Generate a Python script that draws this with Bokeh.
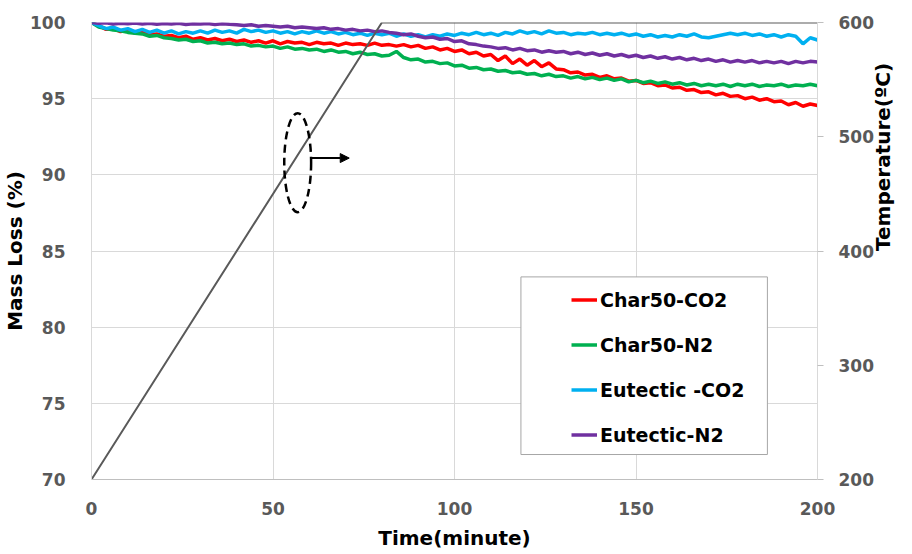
import math
from bokeh.plotting import figure
from bokeh.models import (Range1d, LinearAxis, Legend, LegendItem, Arrow, NormalHead,
                          FixedTicker)
from bokeh.embed import file_html
from bokeh.resources import INLINE

# ---------------- data ----------------
time_min = list(range(0, 201, 2))

char50_co2 = [
    100.0, 99.8, 99.55, 99.6, 99.4, 99.5, 99.3, 99.35, 99.2, 99.25,
    99.1, 99.15, 99.0, 99.1, 98.9, 99.0, 98.85, 98.95, 98.8, 98.9,
    98.75, 98.85, 98.7, 98.8, 98.65, 98.8, 98.6, 98.75, 98.65, 98.7,
    98.55, 98.7, 98.6, 98.65, 98.5, 98.65, 98.55, 98.6, 98.5, 98.65,
    98.5, 98.55, 98.45, 98.55, 98.4, 98.5, 98.3, 98.4, 98.2, 98.3,
    98.1, 98.2, 97.95, 98.05, 97.8, 97.9, 97.5, 97.8, 97.3, 97.6,
    97.2, 97.5, 97.1, 97.35, 96.95, 96.9, 96.7, 96.75, 96.55, 96.6,
    96.4, 96.5, 96.3, 96.35, 96.15, 96.2, 96.0, 96.05, 95.85, 95.9,
    95.7, 95.75, 95.55, 95.6, 95.4, 95.45, 95.25, 95.35, 95.15, 95.2,
    95.0, 95.1, 94.9, 95.0, 94.8, 94.85, 94.6, 94.75, 94.5, 94.65,
    94.55,
]

char50_n2 = [
    100.0, 99.7, 99.6, 99.5, 99.45, 99.35, 99.3, 99.25, 99.1, 99.15,
    99.0, 98.95, 98.85, 98.9, 98.75, 98.8, 98.65, 98.7, 98.6, 98.65,
    98.55, 98.6, 98.45, 98.5, 98.4, 98.45, 98.3, 98.4, 98.25, 98.3,
    98.2, 98.25, 98.1, 98.2, 98.05, 98.1, 97.95, 98.05, 97.9, 97.95,
    97.8, 97.85, 98.1, 97.7, 97.55, 97.6, 97.4, 97.45, 97.3, 97.35,
    97.15, 97.2, 97.0, 97.05, 96.9, 96.95, 96.8, 96.85, 96.7, 96.75,
    96.6, 96.65, 96.5, 96.6, 96.45, 96.5, 96.35, 96.45, 96.3, 96.4,
    96.25, 96.35, 96.2, 96.3, 96.1, 96.2, 96.05, 96.15, 96.0, 96.1,
    95.95, 96.05, 95.9, 96.0, 95.85, 95.95, 95.85, 95.95, 95.8, 95.95,
    95.85, 95.95, 95.8, 95.9, 95.85, 95.95, 95.8, 95.9, 95.85, 95.95,
    95.85,
]

eutectic_co2 = [
    100.0, 99.8, 99.6, 99.7, 99.5, 99.6, 99.4, 99.55, 99.35, 99.5,
    99.3, 99.45, 99.25, 99.4, 99.3, 99.45, 99.3, 99.5, 99.35, 99.45,
    99.3, 99.55, 99.4, 99.5, 99.35, 99.45, 99.3, 99.4, 99.25, 99.4,
    99.3, 99.45, 99.3, 99.4, 99.25, 99.35, 99.2, 99.3, 99.15, 99.3,
    99.2, 99.3, 99.1, 99.25, 99.1, 99.2, 99.05, 99.2, 99.1, 99.25,
    99.15, 99.3, 99.2, 99.35, 99.2, 99.3, 99.15, 99.35, 99.25, 99.45,
    99.3, 99.4, 99.25, 99.45, 99.3, 99.35, 99.2, 99.3, 99.25, 99.35,
    99.2, 99.3, 99.2, 99.3, 99.15, 99.25, 99.1, 99.2, 99.05, 99.15,
    99.05, 99.2, 99.1, 99.25, 99.05, 99.0, 99.1, 99.2, 99.3, 99.2,
    99.3, 99.15, 99.25, 99.1, 99.2, 99.05, 99.2, 99.1, 98.6, 99.0,
    98.85,
]

eutectic_n2 = [
    100.0, 99.95, 99.98, 99.9, 99.95, 99.92, 99.97, 99.9, 99.95, 99.88,
    99.93, 99.9, 99.95, 99.87, 99.92, 99.9, 99.94, 99.86, 99.92, 99.88,
    99.85, 99.8, 99.85, 99.75, 99.8, 99.75, 99.7, 99.75, 99.65, 99.7,
    99.65, 99.6, 99.65, 99.55, 99.6, 99.5, 99.55, 99.45, 99.5, 99.4,
    99.45, 99.35, 99.3, 99.2, 99.25, 99.1, 99.0, 99.05, 98.9, 98.95,
    98.75, 98.8, 98.6, 98.55, 98.45, 98.4, 98.3, 98.35, 98.2, 98.3,
    98.15, 98.2, 98.05, 98.15, 98.05, 98.1, 97.95, 98.05, 97.9, 98.0,
    97.85, 97.95, 97.8, 97.9, 97.75, 97.85, 97.7, 97.8, 97.65, 97.75,
    97.6, 97.7, 97.55, 97.65, 97.5, 97.6, 97.45, 97.55, 97.4, 97.5,
    97.4, 97.5, 97.35, 97.45, 97.35, 97.45, 97.3, 97.45, 97.35, 97.45,
    97.4,
]

temp_time = [0, 80, 200]
temp_c = [200, 600, 600]

series_names = ["Char50-CO2", "Char50-N2", "Eutectic -CO2", "Eutectic-N2"]
series_colors = ["#ff0000", "#00b050", "#00b0f0", "#7030a0"]

x_ticks = [0, 50, 100, 150, 200]
y_ticks = [70, 75, 80, 85, 90, 95, 100]
t_ticks = [200, 300, 400, 500, 600]

FONT = "DejaVu Sans"
TICK_COLOR = "#595959"
GRID = "#d9d9d9"

# ---------------- figure ----------------
p = figure(width=910, height=552, output_backend="svg", toolbar_location=None,
           x_range=Range1d(0, 200), y_range=Range1d(70, 100),
           min_border_left=90, min_border_right=93, min_border_top=22, min_border_bottom=72)
p.extra_y_ranges = {"temp": Range1d(200, 600)}
p.outline_line_color = None
p.background_fill_color = "white"
p.border_fill_color = "white"

p.xaxis.ticker = FixedTicker(ticks=x_ticks)
p.yaxis.ticker = FixedTicker(ticks=y_ticks)
p.xgrid.ticker = FixedTicker(ticks=x_ticks)
p.ygrid.ticker = FixedTicker(ticks=y_ticks)
p.xgrid.grid_line_color = GRID
p.ygrid.grid_line_color = GRID

p.xaxis.axis_label = "Time(minute)"
p.yaxis.axis_label = "Mass Loss (%)"

right = LinearAxis(y_range_name="temp", ticker=FixedTicker(ticks=t_ticks),
                   axis_label="Temperature(ºC)")
p.add_layout(right, "right")

for ax in [p.xaxis[0], p.yaxis[0], right]:
    ax.major_label_text_font = FONT
    ax.major_label_text_font_style = "bold"
    ax.major_label_text_font_size = "17px"
    ax.major_label_text_color = TICK_COLOR
    ax.axis_label_text_font = FONT
    ax.axis_label_text_font_style = "bold"
    ax.axis_label_text_font_size = "20px"
    ax.axis_label_text_color = "black"
    ax.minor_tick_line_color = None
    ax.axis_line_color = "#bfbfbf"

p.xaxis.major_tick_line_color = None
p.yaxis.major_tick_line_color = None
p.xaxis.major_label_standoff = 16
p.xaxis.axis_label_standoff = 8
p.yaxis.major_label_standoff = 20
p.yaxis.axis_label_standoff = 0
p.yaxis.axis_line_color = GRID
right.major_tick_line_color = "#bfbfbf"
right.major_tick_out = 6
right.major_tick_in = 0
right.major_label_standoff = 15
right.axis_label_standoff = 6
# make the right-hand title read bottom-to-top, as in the reference
if "axis_label_orientation" in right.properties():
    right.axis_label_orientation = math.pi / 2

# legend frame (white box with grey border)
p.quad(left=[118.3], right=[186.2], top=[83.3], bottom=[71.64],
       fill_color="white", line_color="#a6a6a6", line_width=1)

# ---------------- data lines ----------------
renderers = []
for vals, name, col in zip([char50_co2, char50_n2, eutectic_co2, eutectic_n2],
                           series_names, series_colors):
    r = p.line(time_min, vals, line_color=col, line_width=3.5)
    renderers.append((name, r))

p.line(temp_time, temp_c, y_range_name="temp", line_color="#5a5a5a", line_width=2)

# annotation: dashed ellipse and arrow pointing to the temperature axis
p.ellipse(x=[56.8], y=[90.8], width=[7.4], height=[6.5], fill_alpha=0,
          line_color="black", line_dash="8 5", line_width=2.5)
p.add_layout(Arrow(end=NormalHead(size=9, fill_color="black", line_color="black"),
                   x_start=60.5, y_start=91.1, x_end=71, y_end=91.1,
                   line_color="black", line_width=2))

legend = Legend(items=[LegendItem(label=n, renderers=[r]) for n, r in renderers],
                location=(480, 33), padding=0, spacing=22, margin=0,
                glyph_width=26, glyph_height=23, label_height=23, label_standoff=3,
                label_text_font=FONT, label_text_font_style="bold",
                label_text_font_size="19px", label_text_color="black",
                background_fill_alpha=0, border_line_alpha=0)
p.add_layout(legend)

open("out.html", "w").write(file_html(p, INLINE))
